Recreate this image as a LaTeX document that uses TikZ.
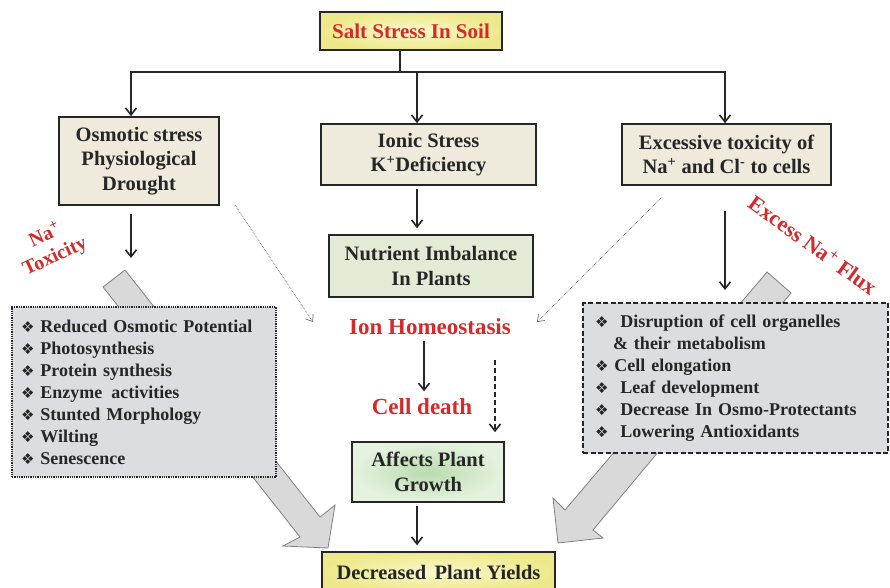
\documentclass[tikz,border=0pt]{standalone}
\usepackage{fontspec}
\setmainfont{Liberation Serif}
\newfontfamily\symfont{DejaVu Sans}
\usepackage{xcolor}
\definecolor{Alert}{HTML}{D42A2A}
\definecolor{Ink}{HTML}{262626}
\definecolor{Cream}{HTML}{EEEBDD}
\definecolor{SoftGreen}{HTML}{E3EAD6}
\definecolor{LeafGreen}{HTML}{B9DBAE}
\definecolor{PaleGreen}{HTML}{E6F2E0}
\definecolor{SoftYellow}{HTML}{FAF8CC}
\definecolor{DeepYellow}{HTML}{EDE98A}
\definecolor{ListGray}{HTML}{DCDDE0}
\definecolor{BlockGray}{HTML}{D9D9D9}
\definecolor{BlockEdge}{HTML}{808080}
\definecolor{Faint}{HTML}{6E6E6E}
\usepackage{tikz}
\usetikzlibrary{arrows.meta,positioning,calc}

\newcommand{\itemmark}{{\symfont\fontsize{15}{15}\selectfont ❖}}

\begin{document}
\begin{tikzpicture}[x=1pt,y=-1pt,
  box/.style={draw=Ink,line width=1.6pt,fill=Cream,align=center,text=Ink,inner sep=0pt,font=\bfseries\fontsize{20.5}{24.5}\selectfont},
  greenbox/.style={box,fill=SoftGreen},
  growthbox/.style={box,inner color=LeafGreen,outer color=PaleGreen},
  yellowbox/.style={box,inner color=SoftYellow,outer color=DeepYellow},
  listbox/.style={draw=Ink,line width=1.3pt,fill=ListGray,align=left,text=Ink,inner xsep=10pt,font=\bfseries\fontsize{18}{22}\selectfont},
  redtext/.style={text=Alert,align=center,font=\bfseries\fontsize{23}{24}\selectfont},
  block/.style={fill=BlockGray,draw=BlockEdge,line width=0.8pt,line join=miter},
  wire/.style={draw=Ink,line width=1.6pt,line cap=rect},
  arrow/.style={-{Straight Barb[length=7pt,width=11pt]},draw=Ink,line width=1.6pt},
  dasharrow/.style={arrow,dash pattern=on 5pt off 3pt},
  faint/.style={-{Straight Barb[length=6pt,width=9pt]},draw=Faint,line width=0.7pt,densely dotted}
]
  \useasboundingbox (0,0) rectangle (890,587);

  \draw[block] (125,270) -- (320,517) -- (335,505) -- (328,548) -- (283,546) -- (300,537) -- (103,287) -- cycle;
  \draw[block] (767,272) -- (565,510) -- (553,498) -- (558,543) -- (603,538) -- (593,530) -- (791,293) -- cycle;

  \node[yellowbox,text=Alert,minimum width=182pt,minimum height=38pt,font=\bfseries\fontsize{21}{24}\selectfont] (salt) at (411,31) {Salt Stress In Soil};
  \node[box,minimum width=160pt,minimum height=88pt] (osmotic) at (139,161) {Osmotic stress\\Physiological\\Drought};
  \node[box,minimum width=215pt,minimum height=61pt] (ionic) at (428.5,154.5) {Ionic Stress\\K\textsuperscript{+}Deficiency};
  \node[box,minimum width=209pt,minimum height=61pt] (toxic) at (726.5,154.5) {Excessive toxicity of\\Na\textsuperscript{+} and Cl\textsuperscript{-} to cells};
  \node[greenbox,minimum width=204pt,minimum height=62pt] (nutrient) at (431,266) {Nutrient Imbalance\\In Plants};

  \node[redtext] (homeo) at (430,327) {Ion Homeostasis};
  \node[redtext] (death) at (422,407) {Cell death};
  \node[growthbox,minimum width=152pt,minimum height=60pt] (growth) at (428,472) {Affects Plant\\Growth};
  \node[yellowbox,minimum width=233pt,minimum height=40pt] (yields) at (438.5,572) {Decreased\, Plant Yields};

  \node[listbox,densely dotted,text width=246pt,inner xsep=9pt,minimum height=170pt] (leftlist) at (144,392)
    {\itemmark\ Reduced Osmotic Potential\\
     \itemmark\ Photosynthesis\\
     \itemmark\ Protein synthesis\\
     \itemmark\ Enzyme\, activities\\
     \itemmark\ Stunted Morphology\\
     \itemmark\ Wilting\\
     \itemmark\ Senescence};
  \node[listbox,dash pattern=on 5pt off 2.5pt,inner xsep=12pt,text width=281pt,minimum height=150pt] (rightlist) at (735.5,378)
    {\itemmark\ \ Disruption of cell organelles\\
     \hspace*{1.0em}\& their metabolism\\
     \itemmark\ Cell elongation\\
     \itemmark\ \ Leaf development\\
     \itemmark\ \ Decrease In Osmo-Protectants\\
     \itemmark\ \ Lowering Antioxidants};

  \node[redtext,rotate=25,font=\bfseries\fontsize{20}{23}\selectfont] (natox) at (50,246) {Na\textsuperscript{+}\\Toxicity};
  \node[redtext,rotate=-36,font=\bfseries\fontsize{22}{24}\selectfont] (flux) at (813,245) {Excess Na\textsuperscript{+} Flux};

  \coordinate (fork) at (400,72);
  \coordinate (forkL) at (131,72);
  \coordinate (forkM) at (417,72);
  \coordinate (forkR) at (725,72);
  \coordinate (osmoticEnd) at (131,258);
  \coordinate (toxicEnd) at (725,290);
  \coordinate (dashStart) at (495,360);
  \coordinate (faintL) at (235,205);
  \coordinate (faintLend) at (313,322);
  \coordinate (faintR) at (662,197);
  \coordinate (faintRend) at (537,322);

  \draw[wire] (salt.south -| fork) -- (fork);
  \draw[wire] (forkL) -- (forkR);
  \draw[arrow] (forkL) -- (forkL |- osmotic.north);
  \draw[arrow] (forkM) -- (forkM |- ionic.north);
  \draw[arrow] (forkR) -- (forkR |- toxic.north);
  \draw[arrow,shorten <=8pt] (osmotic.south -| osmoticEnd) -- (osmoticEnd);
  \draw[arrow,shorten <=25pt] (toxic.south -| toxicEnd) -- (toxicEnd);
  \draw[arrow,shorten <=3pt,shorten >=6pt] (ionic.south -| forkM) -- (forkM |- nutrient.north);
  \draw[arrow,shorten <=2pt,shorten >=4pt] (homeo.south -| 424,0) -- (death.north -| 424,0);
  \draw[dasharrow,shorten >=9pt] (dashStart) -- (growth.north -| dashStart);
  \draw[arrow,shorten <=3pt,shorten >=6pt] (growth.south -| forkM) -- (forkM |- yields.north);
  \draw[faint] (faintL) -- (faintLend);
  \draw[faint] (faintR) -- (faintRend);
\end{tikzpicture}
\end{document}
